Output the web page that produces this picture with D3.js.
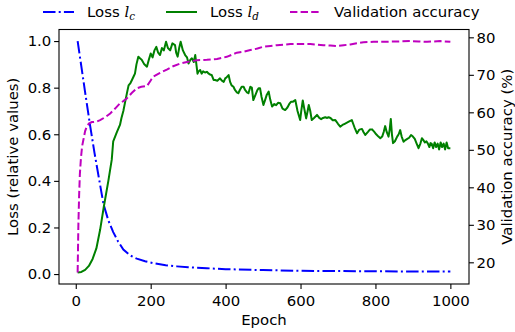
<!DOCTYPE html>
<html>
<head>
<meta charset="utf-8">
<script src="https://cdn.jsdelivr.net/npm/d3@7"></script>
<style>
  body { margin: 0; background: #fff; }
  text { font-family: "DejaVu Sans", sans-serif; }
</style>
</head>
<body>
<div id="chart"></div>
<script>
// [epoch, relative loss]
const lossC = [
  [5, 1.0], [15, 0.89], [25, 0.78], [38, 0.64], [50, 0.52], [62, 0.41], [74, 0.30],
  [87, 0.23], [100, 0.18], [113, 0.14], [127, 0.105], [145, 0.08], [163, 0.066],
  [185, 0.055], [207, 0.047], [240, 0.038], [270, 0.033], [300, 0.029], [350, 0.025],
  [400, 0.021], [500, 0.017], [600, 0.014], [700, 0.013], [800, 0.012], [900, 0.011], [1000, 0.011]
];

const lossD = [
  [5, 0.007], [15, 0.009], [25, 0.018], [35, 0.035], [45, 0.065], [55, 0.11], [65, 0.19],
  [75, 0.29], [87, 0.40], [92, 0.45], [96, 0.49], [100, 0.57], [105, 0.59], [110, 0.61],
  [118, 0.64], [122, 0.67], [127, 0.70], [132, 0.74], [137, 0.78], [141, 0.81], [146, 0.82],
  [150, 0.833], [155, 0.85], [158, 0.86], [162, 0.90], [167, 0.933], [172, 0.925], [176, 0.92],
  [183, 0.90], [190, 0.89], [195, 0.92], [200, 0.947], [205, 0.93], [210, 0.96], [215, 0.975],
  [220, 0.95], [225, 0.94], [230, 0.97], [235, 0.96], [241, 0.997], [246, 0.97], [252, 0.96],
  [258, 0.99], [265, 0.983], [268, 0.95], [272, 0.933], [276, 0.97], [280, 0.997], [286, 0.96],
  [292, 0.94], [297, 0.93], [301, 0.904], [306, 0.92], [310, 0.926], [315, 0.91], [319, 0.94],
  [322, 0.90], [325, 0.86], [328, 0.87], [332, 0.876], [336, 0.86], [340, 0.87], [345, 0.865],
  [350, 0.868], [355, 0.86], [360, 0.855], [363, 0.854], [368, 0.833], [372, 0.833], [378, 0.83],
  [385, 0.84], [390, 0.83], [395, 0.825], [399, 0.84], [403, 0.845], [408, 0.854], [412, 0.825],
  [416, 0.81], [421, 0.804], [425, 0.79], [430, 0.78], [434, 0.776], [438, 0.79], [443, 0.804],
  [448, 0.804], [452, 0.79], [457, 0.78], [461, 0.776], [466, 0.804], [470, 0.80], [474, 0.747],
  [480, 0.77], [485, 0.79], [488, 0.797], [492, 0.797], [496, 0.76], [501, 0.726], [506, 0.75],
  [510, 0.77], [515, 0.783], [519, 0.75], [524, 0.719], [530, 0.73], [535, 0.725], [540, 0.735],
  [546, 0.733], [552, 0.71], [559, 0.704], [565, 0.715], [570, 0.73], [575, 0.74], [580, 0.74],
  [586, 0.747], [592, 0.70], [599, 0.661], [602, 0.70], [606, 0.745], [610, 0.71], [615, 0.668],
  [619, 0.70], [622, 0.726], [626, 0.70], [630, 0.661], [636, 0.67], [644, 0.683], [650, 0.67],
  [655, 0.665], [660, 0.67], [666, 0.673], [670, 0.67], [675, 0.673], [680, 0.67], [686, 0.66],
  [693, 0.661], [700, 0.645], [706, 0.633], [712, 0.64], [718, 0.645], [724, 0.65], [730, 0.655],
  [737, 0.661], [744, 0.63], [751, 0.604], [757, 0.62], [764, 0.623], [768, 0.61], [773, 0.597],
  [780, 0.61], [785, 0.62], [791, 0.621], [797, 0.61], [802, 0.60], [808, 0.59], [813, 0.583],
  [818, 0.59], [822, 0.61], [826, 0.635], [830, 0.61], [835, 0.59], [838, 0.62], [841, 0.666],
  [844, 0.60], [847, 0.562], [852, 0.57], [858, 0.59], [862, 0.60], [866, 0.618], [870, 0.59],
  [875, 0.568], [880, 0.575], [885, 0.58], [890, 0.585], [895, 0.597], [900, 0.59], [905, 0.58],
  [910, 0.56], [915, 0.54], [920, 0.56], [924, 0.583], [928, 0.575], [932, 0.565], [936, 0.57],
  [940, 0.56], [944, 0.545], [947, 0.562], [950, 0.56], [954, 0.54], [958, 0.565], [962, 0.545],
  [966, 0.56], [970, 0.535], [974, 0.565], [978, 0.545], [982, 0.56], [986, 0.535], [990, 0.565],
  [994, 0.54], [1000, 0.54]
];

// [epoch, validation accuracy %]
const valAcc = [
  [5, 17.3], [7, 30], [9, 38], [11, 43.6], [14, 48], [17, 51], [20, 52.5], [25, 55], [29, 56.1],
  [35, 57], [43, 57.4], [55, 57.5], [65, 57.9], [80, 58.8], [92, 59.7], [105, 61], [118, 62.4],
  [127, 63], [136, 63.7], [150, 65.2], [163, 66.4], [175, 66.8], [190, 67], [200, 68.5],
  [207, 69.5], [225, 70.5], [243, 71.4], [260, 72.3], [279, 73], [300, 73.5], [323, 73.9],
  [350, 74], [377, 74.2], [403, 74.8], [430, 75.9], [450, 76.2], [466, 76.6], [485, 77],
  [501, 77.5], [520, 77.7], [537, 77.9], [555, 78], [573, 78.2], [600, 78.2], [626, 78.2],
  [640, 78.1], [661, 77.9], [680, 77.8], [697, 77.7], [715, 77.9], [733, 78.1], [750, 78.4],
  [768, 78.7], [795, 78.8], [822, 78.8], [860, 78.9], [893, 79.0], [915, 78.9], [938, 78.8],
  [955, 78.9], [973, 79.0], [1000, 78.8]
];

const xTicks = [0, 200, 400, 600, 800, 1000];
const lossTicks = [0.0, 0.2, 0.4, 0.6, 0.8, 1.0];
const accTicks = [20, 30, 40, 50, 60, 70, 80];

const width = 515, height = 332;
const box = { left: 59, right: 469, top: 29.5, bottom: 284 };

// matplotlib style 5% margins
function padded(ext) {
  const m = (ext[1] - ext[0]) * 0.05;
  return [ext[0] - m, ext[1] + m];
}

const x = d3.scaleLinear()
  .domain(padded(d3.extent(lossC.concat(lossD, valAcc), d => d[0])))
  .range([box.left, box.right]);
const yLoss = d3.scaleLinear()
  .domain(padded(d3.extent(lossC.concat(lossD), d => d[1])))
  .range([box.bottom, box.top]);
const yAcc = d3.scaleLinear()
  .domain(padded(d3.extent(valAcc, d => d[1])))
  .range([box.bottom, box.top]);

const svg = d3.select("#chart").append("svg")
  .attr("width", width)
  .attr("height", height);

svg.append("clipPath").attr("id", "plot")
  .append("rect")
  .attr("x", box.left).attr("y", box.top)
  .attr("width", box.right - box.left).attr("height", box.bottom - box.top);

const lineLoss = d3.line().x(d => x(d[0])).y(d => yLoss(d[1]));
const lineAcc = d3.line().x(d => x(d[0])).y(d => yAcc(d[1]));

const plot = svg.append("g").attr("clip-path", "url(#plot)");

plot.append("path")
  .attr("d", lineLoss(lossC))
  .attr("fill", "none")
  .attr("stroke", "#0000ff")
  .attr("stroke-width", 2)
  .attr("stroke-dasharray", "12.5,3.2,2,3.2");

plot.append("path")
  .attr("d", lineLoss(lossD))
  .attr("fill", "none")
  .attr("stroke", "#008000")
  .attr("stroke-width", 2)
  .attr("stroke-linejoin", "round");

plot.append("path")
  .attr("d", lineAcc(valAcc))
  .attr("fill", "none")
  .attr("stroke", "#bf00bf")
  .attr("stroke-width", 2)
  .attr("stroke-dasharray", "7.4,3.2");

// axes
const fs = "14.9px";

const xAxis = svg.append("g")
  .attr("transform", `translate(0,${box.bottom})`)
  .call(d3.axisBottom(x).tickValues(xTicks).tickSize(4.9).tickPadding(6.3).tickFormat(d3.format("d")));

const leftAxis = svg.append("g")
  .attr("transform", `translate(${box.left},0)`)
  .call(d3.axisLeft(yLoss).tickValues(lossTicks).tickSize(4.9).tickPadding(2.8).tickFormat(d3.format(".1f")));

const rightAxis = svg.append("g")
  .attr("transform", `translate(${box.right},0)`)
  .call(d3.axisRight(yAcc).tickValues(accTicks).tickSize(4.9).tickPadding(2.6).tickFormat(d3.format("d")));

[xAxis, leftAxis, rightAxis].forEach(g => {
  g.select(".domain").remove();
  g.selectAll(".tick line").attr("stroke", "#000").attr("stroke-width", 1.1);
  g.selectAll(".tick text")
    .attr("fill", "#000")
    .style("font-size", fs)
    .style("font-family", "DejaVu Sans, sans-serif");
});

// frame
svg.append("rect")
  .attr("x", box.left).attr("y", box.top)
  .attr("width", box.right - box.left).attr("height", box.bottom - box.top)
  .attr("fill", "none").attr("stroke", "#000").attr("stroke-width", 1.1);

// axis labels
svg.append("text")
  .attr("x", (box.left + box.right) / 2)
  .attr("y", 324.5)
  .attr("text-anchor", "middle")
  .style("font-size", fs)
  .text("Epoch");

svg.append("text")
  .attr("transform", `translate(17.6,${(box.top + box.bottom) / 2}) rotate(-90)`)
  .attr("text-anchor", "middle")
  .style("font-size", fs)
  .text("Loss (relative values)");

svg.append("text")
  .attr("transform", `translate(501,${(box.top + box.bottom) / 2}) rotate(-90)`)
  .attr("text-anchor", "middle")
  .attr("dy", "0.72em")
  .style("font-size", fs)
  .text("Validation accuracy (%)");

// legend
const legendItems = [
  { x: 43, color: "#0000ff", dash: "12.5,3.2,2,3.2", label: "Loss ", sub: "c" },
  { x: 166, color: "#008000", dash: null, label: "Loss ", sub: "d" },
  { x: 290, color: "#bf00bf", dash: "7.4,3.2", label: "Validation accuracy", sub: null }
];

const legend = svg.append("g");
legendItems.forEach(it => {
  legend.append("line")
    .attr("x1", it.x).attr("x2", it.x + 31)
    .attr("y1", 12).attr("y2", 12)
    .attr("stroke", it.color)
    .attr("stroke-width", 2)
    .attr("stroke-dasharray", it.dash);
  const t = legend.append("text")
    .attr("x", it.x + 44)
    .attr("y", 17)
    .style("font-size", fs);
  t.append("tspan").text(it.label);
  if (it.sub) {
    t.append("tspan")
      .style("font-family", "DejaVu Serif, serif")
      .style("font-style", "italic")
      .text("l");
    t.append("tspan")
      .attr("dy", 2.5)
      .style("font-family", "DejaVu Serif, serif")
      .style("font-style", "italic")
      .style("font-size", "10.4px")
      .text(it.sub);
  }
});
</script>
</body>
</html>
